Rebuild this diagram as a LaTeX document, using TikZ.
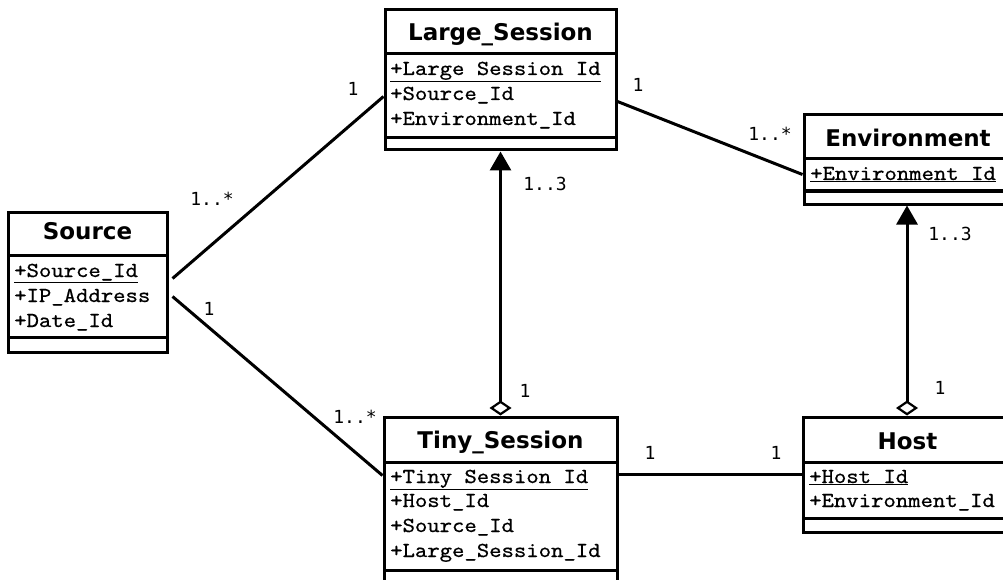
\documentclass[tikz,border=0pt]{standalone}
\usepackage{fontspec}
\usepackage{graphicx}
\usetikzlibrary{arrows.meta}
\newfontfamily\titlefont{DejaVu Sans}
\newfontfamily\multfont{DejaVu Sans Mono}
\newfontfamily\attrfont{lmmono10-regular.otf}[FakeBold=0.6]
\newcommand{\attrtext}[1]{\scalebox{1.15}[1.04]{#1}}
\tikzset{
  classbox/.style={draw, line width=3pt, inner sep=0pt},
  divider/.style={line width=3pt},
  ctitle/.style={anchor=base, inner sep=0pt, font=\titlefont\bfseries\fontsize{23}{27}\selectfont},
  attr/.style={anchor=base west, inner sep=0pt, font=\attrfont\fontsize{20.5}{24}\selectfont},
  mult/.style={inner sep=0pt, font=\multfont\fontsize{18}{21}\selectfont},
  assoc/.style={line width=3pt},
  aggr/.style={line width=3pt,
    {Diamond[open,length=15pt,width=22pt,line width=2.2pt]}-{Triangle[length=19pt,width=21pt]}},
}
\begin{document}
\begin{tikzpicture}[x=1pt,y=-1pt]
\useasboundingbox (0,0) rectangle (1003,580);
\clip (0,0) rectangle (1003,580);
\fill[white] (0,0) rectangle (1003,580);

% ---------- Source ----------
\node[classbox, minimum width=159pt, minimum height=140pt] (source) at (87.5,282) {};
\draw[divider] (8,255) -- (167,255);
\draw[divider] (8,337) -- (167,337);
\node[ctitle] (source-t) at (87.5,239) {Source};
\node[attr] (source-a1) at (14,277) {\attrtext{\underline{+Source\_Id}}};
\node[attr] (source-a2) at (14,302) {\attrtext{+IP\_Address}};
\node[attr] (source-a3) at (14,327) {\attrtext{+Date\_Id}};

% ---------- Large_Session ----------
\node[classbox, minimum width=231pt, minimum height=140pt] (large) at (500.5,80) {};
\draw[divider] (385,54) -- (616,54);
\draw[divider] (385,138) -- (616,138);
\node[ctitle] (large-t) at (500.5,41) {Large\_Session};
\node[attr] (large-a1) at (390,75) {\attrtext{\underline{+Large Session Id}}};
\node[attr] (large-a2) at (390,100) {\attrtext{+Source\_Id}};
\node[attr] (large-a3) at (390,125) {\attrtext{+Environment\_Id}};

% ---------- Environment ----------
\node[classbox, minimum width=208pt, minimum height=89pt] (env) at (908,159.5) {};
\draw[divider] (804,159) -- (1012,159);
\draw[divider] (804,191) -- (1012,191);
\node[ctitle] (env-t) at (908,147) {Environment};
\node[attr] (env-a1) at (810,180) {\attrtext{\underline{+Environment Id}}};

% ---------- Tiny_Session ----------
\node[classbox, minimum width=233pt, minimum height=168pt] (tiny) at (500.5,501) {};
\draw[divider] (384,462) -- (617,462);
\draw[divider] (384,570) -- (617,570);
\node[ctitle] (tiny-t) at (500.5,448) {Tiny\_Session};
\node[attr] (tiny-a1) at (390,483) {\attrtext{\underline{+Tiny Session Id}}};
\node[attr] (tiny-a2) at (390,507) {\attrtext{+Host\_Id}};
\node[attr] (tiny-a3) at (390,532) {\attrtext{+Source\_Id}};
\node[attr] (tiny-a4) at (390,557) {\attrtext{+Large\_Session\_Id}};

% ---------- Host ----------
\node[classbox, minimum width=209pt, minimum height=115pt] (host) at (907.5,474.5) {};
\draw[divider] (803,462) -- (1012,462);
\draw[divider] (803,518) -- (1012,518);
\node[ctitle] (host-t) at (907.5,449) {Host};
\node[attr] (host-a1) at (809,483) {\attrtext{\underline{+Host Id}}};
\node[attr] (host-a2) at (809,507) {\attrtext{+Environment\_Id}};

% ---------- connector end points (canvas y runs upward) ----------
\coordinate (src-up) at ([shift={(4pt,-68pt)}]source.north east);
\coordinate (src-dn) at ([shift={(4pt,-86pt)}]source.north east);
\coordinate (large-w) at ([yshift=-88pt]large.north west);
\coordinate (large-e) at ([yshift=-93pt]large.north east);
\coordinate (env-w) at ([yshift=-61pt]env.north west);
\coordinate (tiny-w) at ([yshift=-60pt]tiny.north west);
\coordinate (tiny-e) at ([yshift=-59pt]tiny.north east);
\coordinate (host-w) at ([yshift=-59pt]host.north west);
\coordinate (tiny-n) at (tiny.north);
\coordinate (large-s) at (large.south);
\coordinate (host-n) at ([xshift=-0.5pt]host.north);
\coordinate (env-s) at ([xshift=-1pt]env.south);

% ---------- associations ----------
\draw[assoc] (src-up) -- (large-w);
\draw[assoc] (src-dn) -- (tiny-w);
\draw[assoc] (large-e) -- (env-w);
\draw[assoc] (tiny-e) -- (host-w);
\draw[aggr] (tiny-n) -- (large-s);
\draw[aggr] (host-n) -- (env-s);

% ---------- multiplicities ----------
\node[mult] (m1) at (212,199) {1..*};
\node[mult] (m2) at (353,89) {1};
\node[mult] (m3) at (209,309) {1};
\node[mult] (m4) at (355,417) {1..*};
\node[mult] (m5) at (638,85) {1};
\node[mult] (m6) at (770,134) {1..*};
\node[mult] (m7) at (545,184) {1..3};
\node[mult] (m8) at (525,391) {1};
\node[mult] (m9) at (950,234) {1..3};
\node[mult] (m10) at (940,388) {1};
\node[mult] (m11) at (650,453) {1};
\node[mult] (m12) at (776,453) {1};
\end{tikzpicture}
\end{document}
